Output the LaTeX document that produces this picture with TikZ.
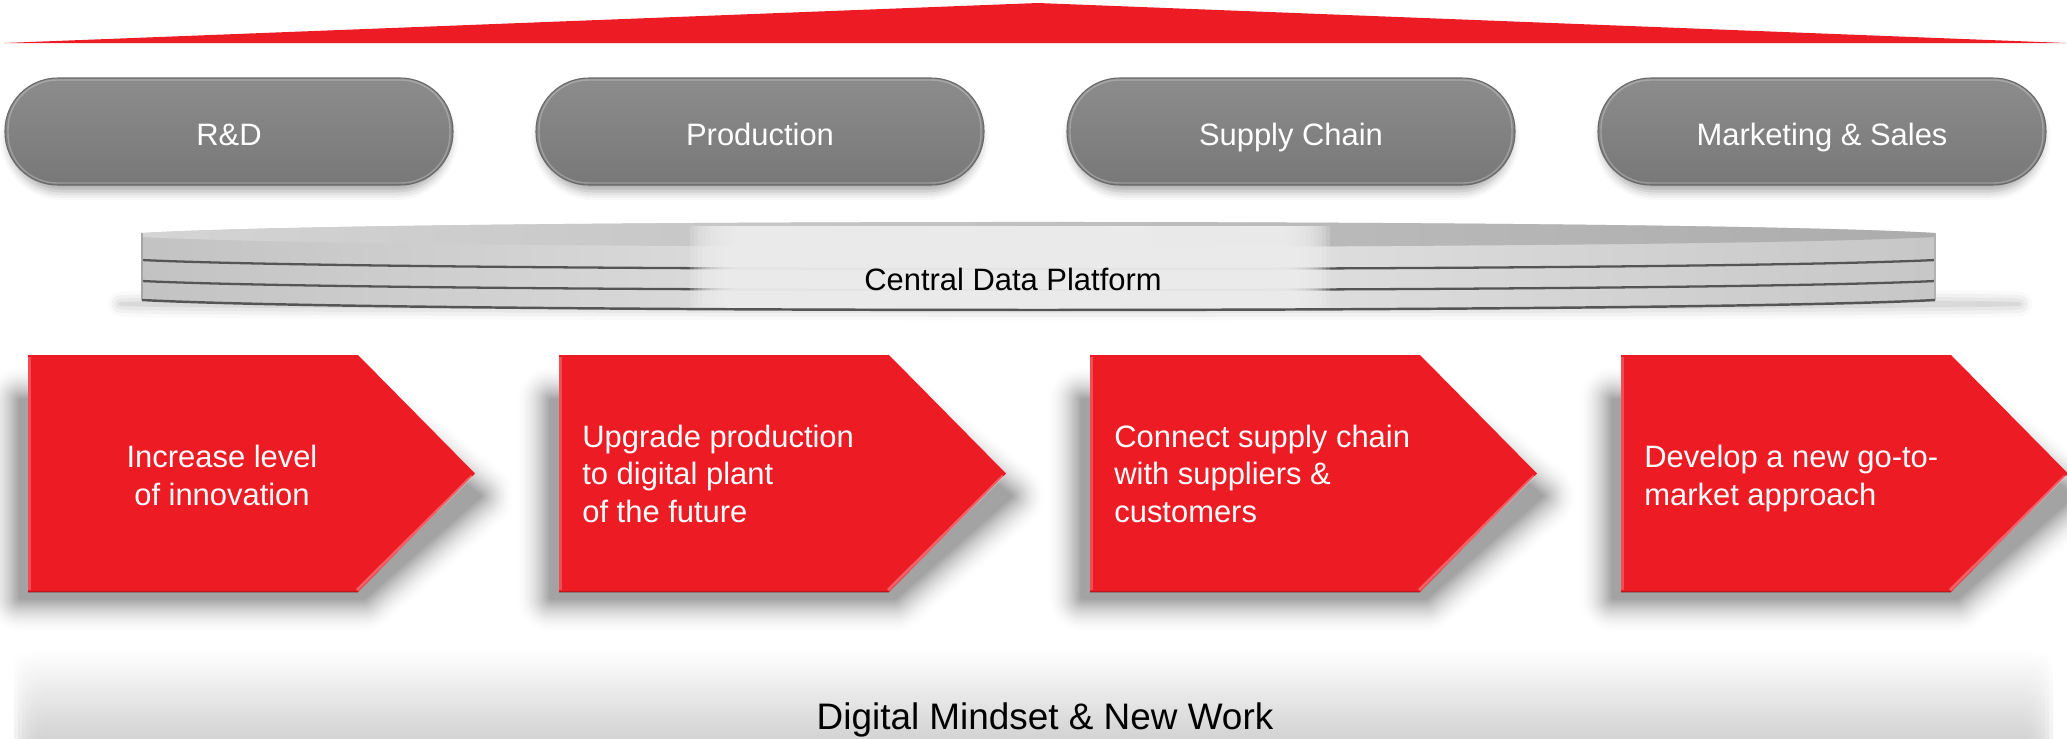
\documentclass[tikz,border=0pt]{standalone}
\usepackage{fontspec}
\setmainfont{Liberation Sans}
\usetikzlibrary{shadows.blur}

\definecolor{brandred}{RGB}{237,28,36}
\definecolor{pilltop}{RGB}{140,140,140}
\definecolor{pillbot}{RGB}{120,120,120}
\definecolor{pillrim}{RGB}{105,105,105}
\definecolor{slabface}{RGB}{216,216,216}
\definecolor{slabtopL}{RGB}{212,212,212}
\definecolor{slabtopR}{RGB}{172,172,172}
\definecolor{slabline}{RGB}{85,85,85}
\definecolor{panelc}{RGB}{238,238,238}
\definecolor{barc}{RGB}{208,208,208}

\tikzset{
  txt/.style={inner sep=0pt, font=\fontsize{17.6pt}{21.3pt}\selectfont},
  pilltext/.style={txt, text=white, anchor=base},
  arrowtext/.style={txt, text=white, anchor=base west, align=left},
  pill/.style={rounded corners=30pt, top color=pilltop, bottom color=pillbot, draw=pillrim, line width=0.6pt},
  pillshadow/.style={blur shadow={shadow xshift=0pt, shadow yshift=-3pt, shadow blur radius=5pt, shadow opacity=35}},
  redarrow/.style={fill=brandred},
}

\begin{document}
\begin{tikzpicture}[x=0.02cm, y=-0.02cm]
\useasboundingbox (0,0) rectangle (2067,738);

% roof
\fill[brandred] (4,43) -- (1038,3) -- (2066,43) -- cycle;

% business functions
\foreach \l/\name/\lbl in {5/rd/R\&D, 536/prod/Production, 1067/scm/Supply Chain, 1598/mkt/Marketing \& Sales}{
  \path[pillshadow, rounded corners=30pt] (\l+4,82) rectangle (\l+444,186);
  \path[pill] (\l,78) rectangle (\l+448,185);
  \draw[white, opacity=0.25, line width=0.8pt, rounded corners=28pt] (\l+3,80) rectangle (\l+445,183);
  \node[pilltext] (\name) at (\l+224,145) {\lbl};
}

% central data platform: soft shadow under the slab
\path[blur shadow={shadow xshift=0pt, shadow yshift=0pt, shadow blur radius=7pt, shadow opacity=30}]
  (1070,304) ellipse [x radius=19.0cm, y radius=0.08cm];

% slab body
\shade[left color=slabface!90!black, right color=slabface!92!black, middle color=slabface!60!white]
  (142,233) .. controls (392,218.3) and (1685,218.3) .. (1935,233)
  -- (1935,300) .. controls (1685,313.3) and (392,313.3) .. (142,300) -- cycle;
% slab top face
\shade[left color=slabtopL, right color=slabtopR]
  (142,233) .. controls (392,218.3) and (1685,218.3) .. (1935,233)
  -- (1935,237) .. controls (1685,250.3) and (392,250.3) .. (142,237) -- cycle;
% layer seams
\draw[slabline, line width=1.3pt] (142,260) .. controls (392,272) and (1685,272) .. (1935,260);
\draw[slabline, line width=1.3pt] (142,281) .. controls (392,293) and (1685,293) .. (1935,281);
% side faces
\draw[gray!70, line width=0.8pt] (142,233) -- (142,300);
\draw[gray!60, line width=0.8pt] (1935,233) -- (1935,300);
% label panel with soft sides
\foreach \i in {0,...,11}{
  \fill[panelc, opacity=0.22] (690+\i*4,226) rectangle (1330-\i*4,308);
}
% bottom rim
\draw[slabline, line width=1.4pt] (142,300) .. controls (392,313.3) and (1685,313.3) .. (1935,300);
\node[txt, anchor=base] (cdp) at (1013,290) {Central Data Platform};

% objective arrows: soft shadows built from opaque rings, outer (light) to inner (dark)
\foreach \i [evaluate=\i as \w using (20-\i)*1.9,
             evaluate=\i as \p using 36*((\i+1)/20)^1.7] in {0,...,19}{
  \foreach \l in {28,559,1090,1621}{
    \filldraw[fill=black!\p, draw=black!\p, line width=\w pt, line join=round]
      (\l-8,400) -- (\l+332,400) -- (\l+452,496) -- (\l+336,598) -- (\l-8,598) -- cycle;
  }
}
\foreach \l/\name in {28/ga, 559/gb, 1090/gc, 1621/gd}{
  \fill[redarrow] (\l,355) -- (\l+330,355) -- (\l+447,473.5) -- (\l+330,592) -- (\l,592) -- cycle;
  \draw[white, opacity=0.22, line width=1.6pt] (\l+1.5,357) -- (\l+1.5,590);
  \draw[white, opacity=0.30, line width=1.6pt] (\l+444,476) -- (\l+329,590);
  \draw[black, opacity=0.18, line width=0.6pt] (\l,592) -- (\l+330,592);
  \coordinate (\name) at (\l,355);
}
\node[txt, text=white, align=center, anchor=base] (t1) at (222,505) {Increase level\\of innovation};
\node[arrowtext] (t2) at (582,522) {Upgrade production\\to digital plant\\of the future};
\node[arrowtext] (t3) at (1114,522) {Connect supply chain\\with suppliers \&\\customers};
\node[arrowtext] (t4) at (1644,505) {Develop a new go-to-\\market approach};

% foundation bar
\foreach \i in {0,...,7}{
  \shade[top color=white, bottom color=barc, opacity=0.3] (14+\i*4,650) rectangle (2053-\i*4,738);
}
\node[txt, anchor=base, font=\fontsize{21pt}{25pt}\selectfont] (dm) at (1045,729) {Digital Mindset \& New Work};
\end{tikzpicture}
\end{document}
